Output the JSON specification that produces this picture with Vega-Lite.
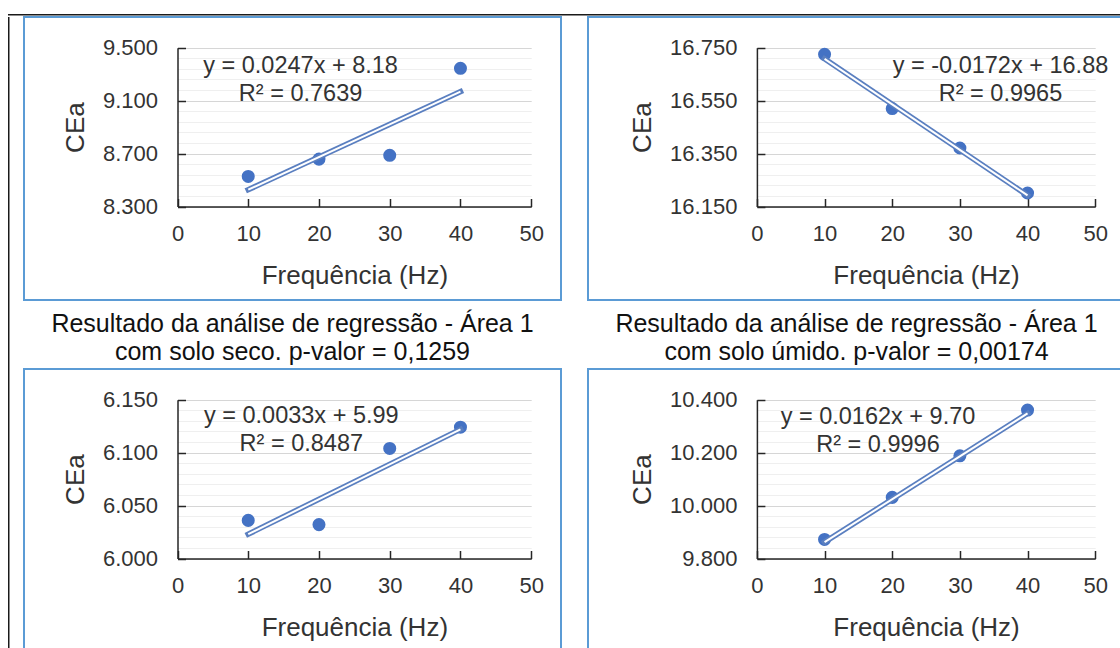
{
  "$schema": "https://vega.github.io/schema/vega-lite/v6.json",
  "padding": {"left": 8, "top": 14, "right": 0, "bottom": 0},
  "autosize": {"type": "pad"},
  "background": "white",
  "datasets": {
    "points": [
      {"painel": "p1", "freq": 10, "cea": 8.527},
      {"painel": "p1", "freq": 20, "cea": 8.658},
      {"painel": "p1", "freq": 30, "cea": 8.687},
      {"painel": "p1", "freq": 40, "cea": 9.344},
      {"painel": "p2", "freq": 10, "cea": 16.725},
      {"painel": "p2", "freq": 20, "cea": 16.52},
      {"painel": "p2", "freq": 30, "cea": 16.371},
      {"painel": "p2", "freq": 40, "cea": 16.201},
      {"painel": "p3", "freq": 10, "cea": 6.036},
      {"painel": "p3", "freq": 20, "cea": 6.032},
      {"painel": "p3", "freq": 30, "cea": 6.104},
      {"painel": "p3", "freq": 40, "cea": 6.124},
      {"painel": "p4", "freq": 10, "cea": 9.872},
      {"painel": "p4", "freq": 20, "cea": 10.031},
      {"painel": "p4", "freq": 30, "cea": 10.188},
      {"painel": "p4", "freq": 40, "cea": 10.361}
    ],
    "fits": [
      {"painel": "p1", "freq": 10, "cea": 8.427},
      {"painel": "p1", "freq": 40, "cea": 9.168},
      {"painel": "p2", "freq": 10, "cea": 16.708},
      {"painel": "p2", "freq": 40, "cea": 16.192},
      {"painel": "p3", "freq": 10, "cea": 6.023},
      {"painel": "p3", "freq": 40, "cea": 6.122},
      {"painel": "p4", "freq": 10, "cea": 9.862},
      {"painel": "p4", "freq": 40, "cea": 10.348}
    ],
    "eqs": [
      {"painel": "p1", "eq": "y = 0.0247x + 8.18", "r2": "R² = 0.7639", "freq": 17.4, "cea": 9.255},
      {"painel": "p2", "eq": "y = -0.0172x + 16.88", "r2": "R² = 0.9965", "freq": 36.0, "cea": 16.628},
      {"painel": "p3", "eq": "y = 0.0033x + 5.99", "r2": "R² = 0.8487", "freq": 17.5, "cea": 6.121},
      {"painel": "p4", "eq": "y = 0.0162x + 9.70", "r2": "R² = 0.9996", "freq": 17.9, "cea": 10.283}
    ]
  },
  "spacing": 0,
  "vconcat": [
    {
      "width": 1115, "height": 1.5,
      "data": {"values": []},
      "mark": "rule", "encoding": {},
      "view": {"fill": "#1a1a1a", "stroke": null}
    },
    {
      "spacing": 13,
      "hconcat": [
        {
          "width": 1.5, "height": 640,
          "data": {"values": []},
          "mark": "rule", "encoding": {},
          "view": {"fill": "#1a1a1a", "stroke": null}
        },
        {
          "spacing": 2,
          "vconcat": [
            {
              "spacing": 25,
              "hconcat": [
                {
                  "width": 537, "height": 283,
                  "view": {"stroke": "#5b9bd5", "strokeWidth": 2, "fill": "white"},
                  "title": {"text": ["Resultado da análise de regressão - Área 1", "com solo seco. p-valor = 0,1259"], "orient": "bottom", "anchor": "middle", "offset": 12},
                  "encoding": {
                    "x": {"field": "freq", "type": "quantitative",
                      "scale": {"domain": [0, 50], "range": [153.5, 507.2], "nice": false, "zero": false},
                      "axis": {"title": "Frequência (Hz)", "values": [0, 10, 20, 30, 40, 50], "offset": -93.5}},
                    "y": {"field": "cea", "type": "quantitative",
                      "scale": {"domain": [8.3, 9.5], "range": [189.5, 30.7], "nice": false, "zero": false},
                      "axis": {"title": "CEa", "offset": -153.5,
                        "values": [8.3, 8.38, 8.46, 8.54, 8.62, 8.7, 8.78, 8.86, 8.94, 9.02, 9.1, 9.18, 9.26, 9.34, 9.42, 9.5],
                        "labelExpr": "abs((datum.value-8.3)/0.4 - round((datum.value-8.3)/0.4)) < 0.01 ? format(datum.value, '.3f') : ''",
                        "gridColor": {"condition": {"test": "abs((datum.value-8.3)/0.4 - round((datum.value-8.3)/0.4)) < 0.01", "value": "#d6d6d6"}, "value": "#efefef"},
                        "tickOpacity": {"condition": {"test": "abs((datum.value-8.3)/0.4 - round((datum.value-8.3)/0.4)) < 0.01", "value": 1}, "value": 0}}}
                  },
                  "layer": [
                    {"data": {"name": "points"}, "transform": [{"filter": "datum.painel == 'p1'"}],
                     "mark": {"type": "circle", "size": 170, "color": "#4472c4", "opacity": 1}},
                    {"data": {"name": "fits"}, "transform": [{"filter": "datum.painel == 'p1'"}],
                     "mark": {"type": "line", "stroke": "#5a7fc0", "strokeWidth": 5.5, "strokeCap": "square"}},
                    {"data": {"name": "fits"}, "transform": [{"filter": "datum.painel == 'p1'"}],
                     "mark": {"type": "line", "stroke": "white", "strokeWidth": 2, "strokeCap": "butt"}},
                    {"data": {"name": "eqs"}, "transform": [{"filter": "datum.painel == 'p1'"}],
                     "mark": {"type": "text", "fontSize": 23.5, "align": "center", "baseline": "middle", "color": "#333", "dy": -14},
                     "encoding": {"text": {"field": "eq", "type": "nominal"}}},
                    {"data": {"name": "eqs"}, "transform": [{"filter": "datum.painel == 'p1'"}],
                     "mark": {"type": "text", "fontSize": 23.5, "align": "center", "baseline": "middle", "color": "#333", "dy": 14},
                     "encoding": {"text": {"field": "r2", "type": "nominal"}}}
                  ]
                },
                {
                  "width": 537, "height": 283,
                  "view": {"stroke": "#5b9bd5", "strokeWidth": 2, "fill": "white"},
                  "title": {"text": ["Resultado da análise de regressão - Área 1", "com solo úmido. p-valor = 0,00174"], "orient": "bottom", "anchor": "middle", "offset": 12},
                  "encoding": {
                    "x": {"field": "freq", "type": "quantitative",
                      "scale": {"domain": [0, 50], "range": [168.9, 507.2], "nice": false, "zero": false},
                      "axis": {"title": "Frequência (Hz)", "values": [0, 10, 20, 30, 40, 50], "offset": -93.5}},
                    "y": {"field": "cea", "type": "quantitative",
                      "scale": {"domain": [16.15, 16.75], "range": [189.5, 30.7], "nice": false, "zero": false},
                      "axis": {"title": "CEa", "offset": -168.9,
                        "values": [16.15, 16.19, 16.23, 16.27, 16.31, 16.35, 16.39, 16.43, 16.47, 16.51, 16.55, 16.59, 16.63, 16.67, 16.71, 16.75],
                        "labelExpr": "abs((datum.value-16.15)/0.2 - round((datum.value-16.15)/0.2)) < 0.01 ? format(datum.value, '.3f') : ''",
                        "gridColor": {"condition": {"test": "abs((datum.value-16.15)/0.2 - round((datum.value-16.15)/0.2)) < 0.01", "value": "#d6d6d6"}, "value": "#efefef"},
                        "tickOpacity": {"condition": {"test": "abs((datum.value-16.15)/0.2 - round((datum.value-16.15)/0.2)) < 0.01", "value": 1}, "value": 0}}}
                  },
                  "layer": [
                    {"data": {"name": "points"}, "transform": [{"filter": "datum.painel == 'p2'"}],
                     "mark": {"type": "circle", "size": 170, "color": "#4472c4", "opacity": 1}},
                    {"data": {"name": "fits"}, "transform": [{"filter": "datum.painel == 'p2'"}],
                     "mark": {"type": "line", "stroke": "#5a7fc0", "strokeWidth": 5.5, "strokeCap": "square"}},
                    {"data": {"name": "fits"}, "transform": [{"filter": "datum.painel == 'p2'"}],
                     "mark": {"type": "line", "stroke": "white", "strokeWidth": 2, "strokeCap": "butt"}},
                    {"data": {"name": "eqs"}, "transform": [{"filter": "datum.painel == 'p2'"}],
                     "mark": {"type": "text", "fontSize": 23.5, "align": "center", "baseline": "middle", "color": "#333", "dy": -14},
                     "encoding": {"text": {"field": "eq", "type": "nominal"}}},
                    {"data": {"name": "eqs"}, "transform": [{"filter": "datum.painel == 'p2'"}],
                     "mark": {"type": "text", "fontSize": 23.5, "align": "center", "baseline": "middle", "color": "#333", "dy": 14},
                     "encoding": {"text": {"field": "r2", "type": "nominal"}}}
                  ]
                }
              ]
            },
            {
              "spacing": 25,
              "hconcat": [
                {
                  "width": 537, "height": 283,
                  "view": {"stroke": "#5b9bd5", "strokeWidth": 2, "fill": "white"},
                  "encoding": {
                    "x": {"field": "freq", "type": "quantitative",
                      "scale": {"domain": [0, 50], "range": [153.5, 507.2], "nice": false, "zero": false},
                      "axis": {"title": "Frequência (Hz)", "values": [0, 10, 20, 30, 40, 50], "offset": -93.5}},
                    "y": {"field": "cea", "type": "quantitative",
                      "scale": {"domain": [6.0, 6.15], "range": [189.5, 30.7], "nice": false, "zero": false},
                      "axis": {"title": "CEa", "offset": -153.5,
                        "values": [6.0, 6.01, 6.02, 6.03, 6.04, 6.05, 6.06, 6.07, 6.08, 6.09, 6.1, 6.11, 6.12, 6.13, 6.14, 6.15],
                        "labelExpr": "abs((datum.value-6.0)/0.05 - round((datum.value-6.0)/0.05)) < 0.01 ? format(datum.value, '.3f') : ''",
                        "gridColor": {"condition": {"test": "abs((datum.value-6.0)/0.05 - round((datum.value-6.0)/0.05)) < 0.01", "value": "#d6d6d6"}, "value": "#efefef"},
                        "tickOpacity": {"condition": {"test": "abs((datum.value-6.0)/0.05 - round((datum.value-6.0)/0.05)) < 0.01", "value": 1}, "value": 0}}}
                  },
                  "layer": [
                    {"data": {"name": "points"}, "transform": [{"filter": "datum.painel == 'p3'"}],
                     "mark": {"type": "circle", "size": 170, "color": "#4472c4", "opacity": 1}},
                    {"data": {"name": "fits"}, "transform": [{"filter": "datum.painel == 'p3'"}],
                     "mark": {"type": "line", "stroke": "#5a7fc0", "strokeWidth": 5.5, "strokeCap": "square"}},
                    {"data": {"name": "fits"}, "transform": [{"filter": "datum.painel == 'p3'"}],
                     "mark": {"type": "line", "stroke": "white", "strokeWidth": 2, "strokeCap": "butt"}},
                    {"data": {"name": "eqs"}, "transform": [{"filter": "datum.painel == 'p3'"}],
                     "mark": {"type": "text", "fontSize": 23.5, "align": "center", "baseline": "middle", "color": "#333", "dy": -14},
                     "encoding": {"text": {"field": "eq", "type": "nominal"}}},
                    {"data": {"name": "eqs"}, "transform": [{"filter": "datum.painel == 'p3'"}],
                     "mark": {"type": "text", "fontSize": 23.5, "align": "center", "baseline": "middle", "color": "#333", "dy": 14},
                     "encoding": {"text": {"field": "r2", "type": "nominal"}}}
                  ]
                },
                {
                  "width": 537, "height": 283,
                  "view": {"stroke": "#5b9bd5", "strokeWidth": 2, "fill": "white"},
                  "encoding": {
                    "x": {"field": "freq", "type": "quantitative",
                      "scale": {"domain": [0, 50], "range": [168.9, 507.2], "nice": false, "zero": false},
                      "axis": {"title": "Frequência (Hz)", "values": [0, 10, 20, 30, 40, 50], "offset": -93.5}},
                    "y": {"field": "cea", "type": "quantitative",
                      "scale": {"domain": [9.8, 10.4], "range": [189.5, 30.7], "nice": false, "zero": false},
                      "axis": {"title": "CEa", "offset": -168.9,
                        "values": [9.8, 9.84, 9.88, 9.92, 9.96, 10.0, 10.04, 10.08, 10.12, 10.16, 10.2, 10.24, 10.28, 10.32, 10.36, 10.4],
                        "labelExpr": "abs((datum.value-9.8)/0.2 - round((datum.value-9.8)/0.2)) < 0.01 ? format(datum.value, '.3f') : ''",
                        "gridColor": {"condition": {"test": "abs((datum.value-9.8)/0.2 - round((datum.value-9.8)/0.2)) < 0.01", "value": "#d6d6d6"}, "value": "#efefef"},
                        "tickOpacity": {"condition": {"test": "abs((datum.value-9.8)/0.2 - round((datum.value-9.8)/0.2)) < 0.01", "value": 1}, "value": 0}}}
                  },
                  "layer": [
                    {"data": {"name": "points"}, "transform": [{"filter": "datum.painel == 'p4'"}],
                     "mark": {"type": "circle", "size": 170, "color": "#4472c4", "opacity": 1}},
                    {"data": {"name": "fits"}, "transform": [{"filter": "datum.painel == 'p4'"}],
                     "mark": {"type": "line", "stroke": "#5a7fc0", "strokeWidth": 5.5, "strokeCap": "square"}},
                    {"data": {"name": "fits"}, "transform": [{"filter": "datum.painel == 'p4'"}],
                     "mark": {"type": "line", "stroke": "white", "strokeWidth": 2, "strokeCap": "butt"}},
                    {"data": {"name": "eqs"}, "transform": [{"filter": "datum.painel == 'p4'"}],
                     "mark": {"type": "text", "fontSize": 23.5, "align": "center", "baseline": "middle", "color": "#333", "dy": -14},
                     "encoding": {"text": {"field": "eq", "type": "nominal"}}},
                    {"data": {"name": "eqs"}, "transform": [{"filter": "datum.painel == 'p4'"}],
                     "mark": {"type": "text", "fontSize": 23.5, "align": "center", "baseline": "middle", "color": "#333", "dy": 14},
                     "encoding": {"text": {"field": "r2", "type": "nominal"}}}
                  ]
                }
              ]
            }
          ]
        }
      ]
    }
  ],
  "config": {
    "font": "Liberation Sans",
    "axis": {
      "domainColor": "#262626", "domainWidth": 1.5,
      "tickColor": "#262626", "tickWidth": 1.5, "tickSize": -8,
      "labelFont": "Liberation Sans", "labelFontSize": 22, "labelColor": "#333",
      "titleFont": "Liberation Sans", "titleFontSize": 26, "titleFontWeight": "normal", "titleColor": "#333",
      "labelFlush": false, "labelOverlap": false
    },
    "axisX": {"grid": false, "labelPadding": 25, "titlePadding": 18},
    "axisY": {"grid": true, "gridWidth": 1, "labelPadding": 28, "titlePadding": 14},
    "title": {"font": "Liberation Sans", "fontSize": 25, "fontWeight": "normal", "color": "#111", "lineHeight": 28}
  }
}
